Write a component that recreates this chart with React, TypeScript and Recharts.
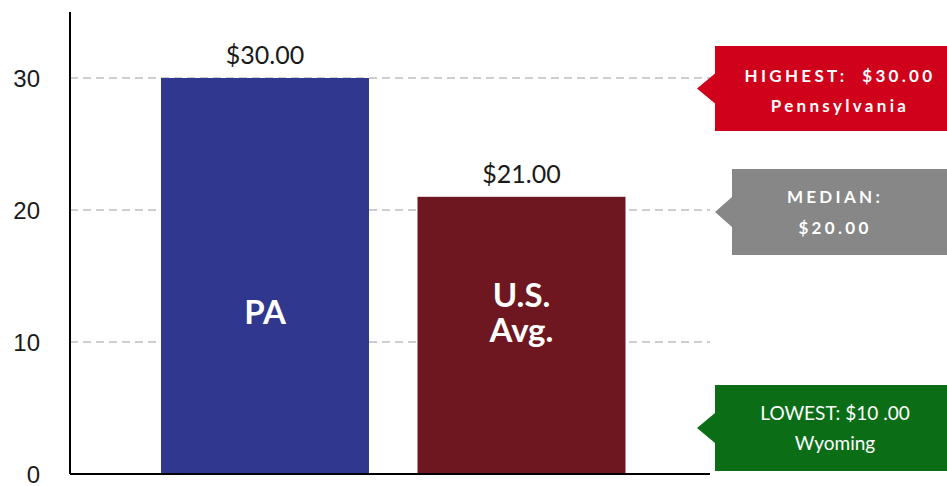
import { BarChart, Bar, XAxis, YAxis, CartesianGrid, LabelList, Customized } from "recharts";

const categories = ["PA", "U.S. Avg."];
const wages = [30, 21];
const barLines = [["PA"], ["U.S.", "Avg."]];
const barColors = ["#30378f", "#6e1720"];
const yTicks = [0, 10, 20, 30];
const gridValues = [10, 20, 30];

const calloutTitles = ["HIGHEST:  $30.00", "MEDIAN:", "LOWEST: $10 .00"];
const calloutSubs = ["Pennsylvania", "$20.00", "Wyoming"];
const calloutColors = ["#d0021b", "#878787", "#0b6e17"];

const data = categories.map((name, i) => ({ name, wage: wages[i], lines: barLines[i] }));

// layout for the side boxes (left edge, top, bottom, arrow tip x, text centre x, bold)
const boxes = [
  { left: 715, top: 46, bottom: 131, tip: 697, cx: 840, y1: 82, y2: 112, bold: true },
  { left: 732, top: 169, bottom: 255, tip: 715, cx: 835, y1: 203, y2: 234, bold: true },
  { left: 715, top: 385, bottom: 471, tip: 697, cx: 835, y1: 420, y2: 450, bold: false },
];

const lato = "Lato, 'Open Sans', sans-serif";

function Callouts() {
  return (
    <g>
      {boxes.map((b, i) => {
        const mid = (b.top + b.bottom) / 2;
        const pts = [
          [b.left, b.top], [947, b.top], [947, b.bottom], [b.left, b.bottom],
          [b.left, mid + 15], [b.tip, mid], [b.left, mid - 15],
        ].map((p) => p.join(",")).join(" ");
        const font = {
          fontFamily: lato,
          fontSize: b.bold ? 17 : 19,
          fontWeight: b.bold ? 700 : 400,
          letterSpacing: b.bold ? 3.3 : 0,
        };
        return (
          <g key={i}>
            <polygon points={pts} fill={calloutColors[i]} />
            <text x={b.cx} y={b.y1} textAnchor="middle" fill="#fff" {...font} style={{ whiteSpace: "pre" }}>
              {calloutTitles[i]}
            </text>
            <text x={b.cx} y={b.y2} textAnchor="middle" fill="#fff" {...font}>
              {calloutSubs[i]}
            </text>
          </g>
        );
      })}
    </g>
  );
}

function BarName(props: any) {
  const { x, y, width, height, index } = props;
  const lines: string[] = barLines[index];
  const cx = x + width / 2;
  const cy = y + height - 163;
  const lh = 35;
  const first = cy - ((lines.length - 1) * lh) / 2;
  return (
    <text x={cx} textAnchor="middle" fill="#fff" fontFamily={lato} fontWeight={700} fontSize={33}>
      {lines.map((l, k) => (
        <tspan key={k} x={cx} y={first + k * lh} dominantBaseline="central">{l}</tspan>
      ))}
    </text>
  );
}

export default function App() {
  return (
    <div style={{ position: "absolute", left: 0, top: 0, width: 947, height: 486, background: "#fff" }}>
      <BarChart width={947} height={486} data={data} margin={{ top: 12, right: 237, left: 0, bottom: 10 }}>
        <CartesianGrid vertical={false} horizontalValues={gridValues} stroke="#bdbdbd" strokeWidth={1.5} strokeDasharray="8 5" />
        <XAxis dataKey="name" tick={false} height={2} padding={{ left: 67, right: 60 }}
          axisLine={{ stroke: "#000", strokeWidth: 2 }} tickLine={false} />
        <YAxis domain={[0, 35]} ticks={yTicks} interval={0} width={70} tickLine={false} tickSize={0} tickMargin={30}
          axisLine={{ stroke: "#000", strokeWidth: 2 }}
          tick={{ fill: "#1a1a1a", fontSize: 24, fontFamily: "'Liberation Sans', Arial, sans-serif" }} />
        <Bar dataKey="wage" barSize={208} isAnimationActive={false}
          shape={(p: any) => <rect x={p.x} y={p.y} width={p.width} height={p.height} fill={barColors[p.index]} />}>
          <LabelList dataKey="wage" position="top" offset={14}
            formatter={(v: any) => `$${Number(v).toFixed(2)}`}
            style={{ fill: "#1a1a1a", fontSize: 25, fontFamily: lato }} />
          <LabelList dataKey="name" content={BarName} />
        </Bar>
        <Customized component={Callouts} />
      </BarChart>
    </div>
  );
}
